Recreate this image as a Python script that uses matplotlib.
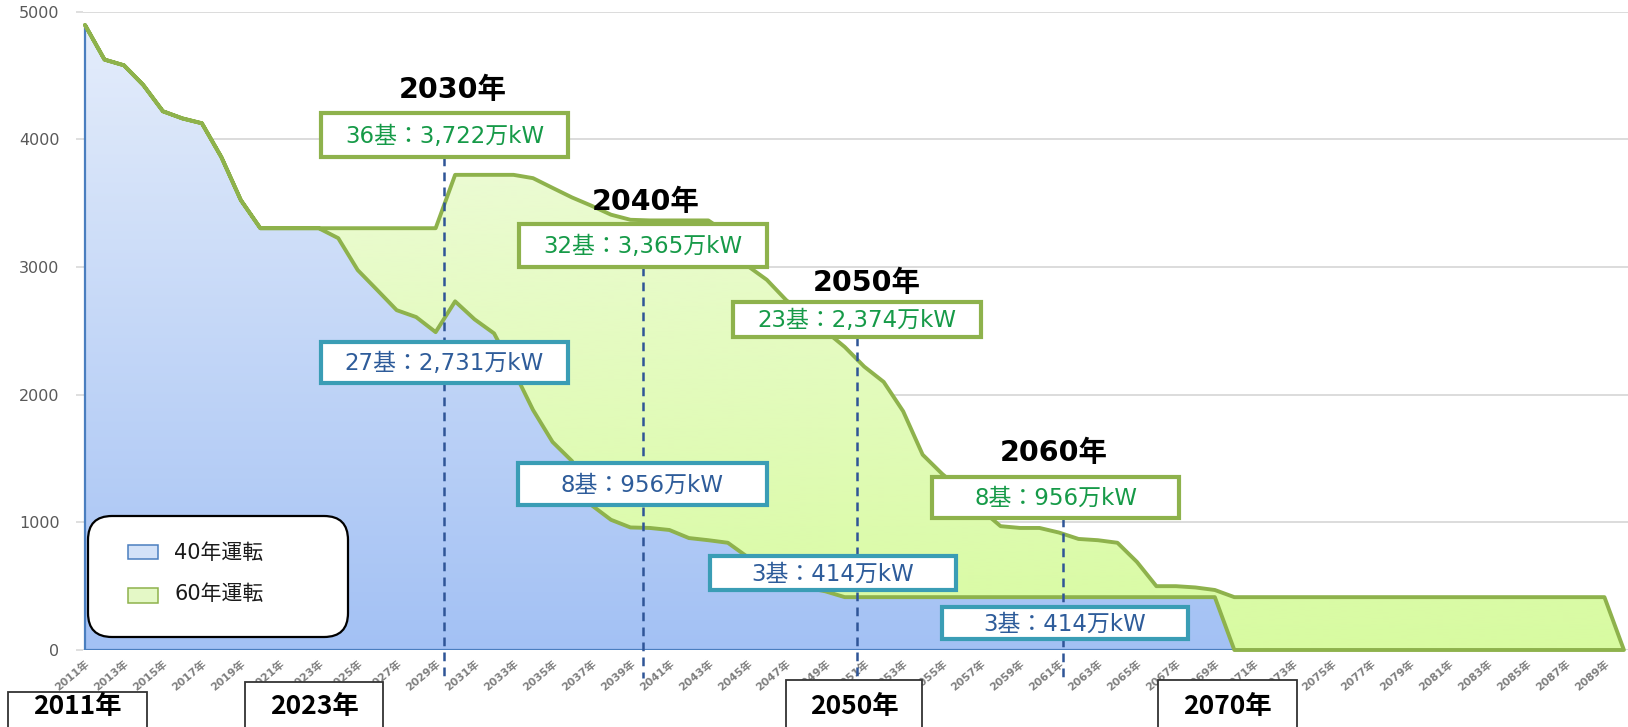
import numpy as np
import matplotlib
matplotlib.use("Agg")
import matplotlib.pyplot as plt
from matplotlib.patches import Polygon, Rectangle, FancyBboxPatch
from matplotlib.colors import LinearSegmentedColormap

W, H = 1628, 727

# ---------------------------------------------------------------------------
# Data (万kW)
# ---------------------------------------------------------------------------
years = np.arange(2011, 2091)

cap_40 = ([4896, 4625, 4580, 4424, 4220, 4164, 4126, 3861, 3524, 3304,   # 2011-2020
           3304, 3304, 3304, 3226, 2976, 2820, 2662, 2608, 2490, 2731,   # 2021-2030
           2590, 2480, 2190, 1880, 1630, 1480, 1135, 1020, 960, 956,     # 2031-2040
           940, 877, 860, 840, 730, 520, 510, 490, 460, 414]             # 2041-2050
          + [414] * 19                                                   # 2051-2069
          + [0] * 21)                                                    # 2070-2090

cap_60 = ([4896, 4625, 4580, 4424, 4220, 4164, 4126, 3861, 3524, 3304,   # 2011-2020
           3304, 3304, 3304, 3304, 3304, 3304, 3304, 3304, 3304, 3722,   # 2021-2030
           3722, 3722, 3722, 3696, 3620, 3545, 3480, 3410, 3370, 3365,   # 2031-2040
           3365, 3365, 3365, 3260, 3010, 2900, 2740, 2620, 2500, 2374,   # 2041-2050
           2220, 2100, 1870, 1530, 1380, 1250, 1100, 970, 956, 956,      # 2051-2060
           920, 870, 860, 840, 690, 500, 500, 490, 470, 414]             # 2061-2070
          + [414] * 19                                                   # 2071-2089
          + [0])                                                         # 2090

y_ticks = [0, 1000, 2000, 3000, 4000, 5000]
x_tick_years = years[::2]
x_tick_labels = [f"{y}年" for y in x_tick_years]

legend_labels = ["40年運転", "60年運転"]
milestone_years = ["2030年", "2040年", "2050年", "2060年"]
green_notes = ["36基：3,722万kW", "32基：3,365万kW", "23基：2,374万kW", "8基：956万kW"]
blue_notes = ["27基：2,731万kW", "8基：956万kW", "3基：414万kW", "3基：414万kW"]
bottom_years = ["2011年", "2023年", "2050年", "2070年"]

# ---------------------------------------------------------------------------
# Style
# ---------------------------------------------------------------------------
LATIN_CJK = ["DejaVu Sans", "Noto Sans CJK JP"]
CJK = ["Noto Sans CJK JP", "DejaVu Sans"]
plt.rcParams["font.family"] = LATIN_CJK

GREEN_LINE = "#8eb24c"
GREEN_TXT = "#169a48"
BLUE_EDGE = "#4a7ebf"
TEAL = "#3a9db5"
BLUE_TXT = "#2e5c9a"
DASH = "#2f5597"

fig = plt.figure(figsize=(W / 100, H / 100), dpi=100)

# main plot area: 2011 sits at x=85px, 0 at y=650px, 5000 at y=11.7px
k = 19.48
x_left_px, x_right_px = 83, 1628
y_top_px, y_bot_px = 11.7, 650
ax = fig.add_axes([x_left_px / W, (H - y_bot_px) / H,
                   (x_right_px - x_left_px) / W, (y_bot_px - y_top_px) / H])
xmin = 2011 - (85 - x_left_px) / k
xmax = xmin + (x_right_px - x_left_px) / k


def grad_fill(xs, top, bottom, c_top, c_bot, z):
    verts = list(zip(xs, top)) + list(zip(xs[::-1], bottom[::-1]))
    poly = Polygon(verts, closed=True, facecolor="none", edgecolor="none")
    ax.add_patch(poly)
    cmap = LinearSegmentedColormap.from_list("g", [c_bot, c_top])
    grad = np.linspace(0, 1, 256).reshape(-1, 1)
    im = ax.imshow(grad, extent=[xs[0], xs[-1], 0, 5000], origin="lower",
                   aspect="auto", cmap=cmap, zorder=z, interpolation="bilinear")
    im.set_clip_path(poly)
    return verts


c40 = np.array(cap_40, dtype=float)
c60 = np.array(cap_60, dtype=float)
zeros = np.zeros_like(c40)

v_blue = grad_fill(years, c40, zeros, "#e6eefb", "#a3c1f4", 2)
v_green = grad_fill(years, c60, c40, "#f2fbe3", "#d8fba1", 3)

ax.add_patch(Polygon(v_blue, closed=True, facecolor="none",
                     edgecolor=BLUE_EDGE, lw=1.6, zorder=4))
ax.add_patch(Polygon(v_green, closed=True, facecolor="none",
                     edgecolor=GREEN_LINE, lw=2.8, joinstyle="round", zorder=5,
                     clip_on=False))

ax.set_xlim(xmin, xmax)
ax.set_ylim(0, 5000)
ax.set_yticks(y_ticks)
ax.set_yticklabels([str(v) for v in y_ticks], fontsize=11.5, color="#595959")
ax.set_xticks(x_tick_years)
ax.set_xticklabels(x_tick_labels, rotation=40, ha="right", va="top",
                   rotation_mode="anchor", fontsize=7.8, color="#7f7f7f",
                   fontweight="bold")
ax.tick_params(axis="y", length=5, width=1.2, color="#d9d9d9", pad=12)
ax.tick_params(axis="x", length=0, pad=6)
ax.grid(axis="y", color="#d9d9d9", lw=1.3)
ax.set_axisbelow(True)
for s in ax.spines.values():
    s.set_visible(False)

# ---------------------------------------------------------------------------
# Overlay in pixel coordinates for the callouts
# ---------------------------------------------------------------------------
ov = fig.add_axes([0, 0, 1, 1], zorder=10)
ov.set_xlim(0, W)
ov.set_ylim(H, 0)
ov.axis("off")
ov.patch.set_alpha(0)

# dashed guide lines (x, top)
guides = [(444, 157), (643, 267), (857, 337), (1063, 518)]
for gx, gtop in guides:
    ov.plot([gx, gx], [gtop, 678], color=DASH, lw=1.8, ls=(0, (3.5, 2.5)), zorder=1)


def note_box(x0, y0, x1, y1, text, edge, tcolor, lw=3):
    ov.add_patch(Rectangle((x0, y0), x1 - x0, y1 - y0, facecolor="white",
                           edgecolor=edge, lw=lw, zorder=3))
    ov.text((x0 + x1) / 2, (y0 + y1) / 2 + 1, text, ha="center", va="center",
            fontsize=16.5, color=tcolor, zorder=4)


green_boxes = [(321, 113, 568, 157), (519, 224, 767, 267),
               (733, 302, 981, 337), (932, 477, 1179, 518)]
blue_boxes = [(321, 342, 568, 383), (518, 463, 767, 505),
              (710, 556, 956, 590), (942, 607, 1188, 639)]
for (x0, y0, x1, y1), t in zip(green_boxes, green_notes):
    note_box(x0, y0, x1, y1, t, GREEN_LINE, GREEN_TXT)
for (x0, y0, x1, y1), t in zip(blue_boxes, blue_notes):
    note_box(x0, y0, x1, y1, t, TEAL, BLUE_TXT)

milestone_pos = [(453, 90), (646, 202), (867, 283), (1054, 453)]
for (mx, my), t in zip(milestone_pos, milestone_years):
    ov.text(mx, my, t, ha="center", va="center", fontsize=20.5,
            fontweight="bold", color="black", zorder=4)

# boxes along the bottom
bottom_boxes = [(8, 692, 147), (245, 682, 383), (786, 680, 922), (1158, 680, 1297)]
for (bx0, btop, bx1), t in zip(bottom_boxes, bottom_years):
    ov.add_patch(Rectangle((bx0, btop), bx1 - bx0, H + 10 - btop, facecolor="white",
                           edgecolor="#333333", lw=1.3, zorder=3))
    ov.text((bx0 + bx1) / 2, 707, t, ha="center", va="center", fontsize=19,
            fontweight="bold", family=CJK, color="black", zorder=4)

# legend
ov.add_patch(FancyBboxPatch((88, 516), 260, 121,
                            boxstyle="round,pad=0,rounding_size=24",
                            facecolor="white", edgecolor="black", lw=1.6, zorder=3))
ov.add_patch(Rectangle((128, 545), 30, 14, facecolor="#d3e2f8",
                       edgecolor=BLUE_EDGE, lw=1.1, zorder=4))
ov.add_patch(Rectangle((128, 588), 30, 15, facecolor="#e4f8c6",
                       edgecolor=GREEN_LINE, lw=1.1, zorder=4))
for ly, t in zip([553, 594], legend_labels):
    ov.text(174, ly, t, ha="left", va="center", fontsize=15,
            color="#1a1a1a", zorder=4)

fig.savefig("out.png", dpi=100)
